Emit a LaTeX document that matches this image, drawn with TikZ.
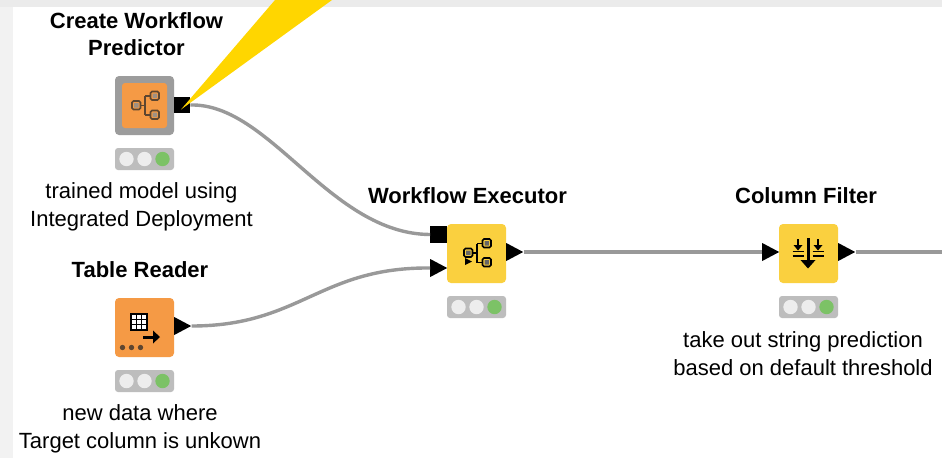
\documentclass[tikz,border=0pt]{standalone}
\usepackage{fontspec}
\setmainfont{Liberation Sans}
\usetikzlibrary{shapes.geometric}

\definecolor{nodeorange}{HTML}{F59A45}
\definecolor{nodeyellow}{HTML}{FAD03F}
\definecolor{wedgeyellow}{HTML}{FFD600}
\definecolor{framegray}{HTML}{9C9C9C}
\definecolor{lampbar}{HTML}{BDBDBD}
\definecolor{wiregray}{HTML}{999999}
\definecolor{lampgreen}{HTML}{7CC266}
\definecolor{icondark}{HTML}{5E4630}

\tikzset{
  orangenode/.style={rectangle, fill=nodeorange, rounded corners=4, minimum size=59, inner sep=0},
  yellownode/.style={rectangle, fill=nodeyellow, rounded corners=4, minimum size=59, inner sep=0},
  framenode/.style={rectangle, fill=framegray, rounded corners=4, minimum size=59, inner sep=0},
  innernode/.style={rectangle, fill=nodeorange, rounded corners=3, minimum size=45, inner sep=0},
  squareport/.style={rectangle, fill=black, minimum size=16.5, inner sep=0},
  arrowport/.style={isosceles triangle, isosceles triangle apex angle=60, fill=black,
    minimum height=17, minimum width=18, inner sep=0, isosceles triangle stretches, anchor=lower side},
  traffic/.style={rectangle, fill=lampbar, rounded corners=3, minimum width=59, minimum height=22, inner sep=0},
  titlelabel/.style={font=\bfseries\fontsize{22}{27}\selectfont, align=center, inner sep=0},
  notelabel/.style={font=\fontsize{22}{28}\selectfont, align=center, inner sep=0},
  wire/.style={draw=wiregray, line width=3.4},
}

\newcommand{\lamps}[1]{
  \fill[white!93!black] (#1)+(-18,0) circle (7.2);
  \fill[white!93!black] (#1)+(0,0) circle (7.2);
  \fill[lampgreen] (#1)+(18,0) circle (7.2);
}
\newcommand{\flowicon}[2]{
  \begin{scope}[shift={(#1)}, draw=#2, line width=1.7]
    \draw[rounded corners=1.5] (-13,-4.5) rectangle (-4.5,4);
    \draw[rounded corners=1.5] (5.5,-14) rectangle (14,-5.5);
    \draw[rounded corners=1.5] (5.5,5) rectangle (14,13.5);
    \draw (-4.5,0) -- (0,0) (0,-9.5) -- (0,9.5) (0,-9.5) -- (5.5,-9.5) (0,9.5) -- (5.5,9.5);
    \fill[#2!60!white] (-11,-2.5) rectangle (-6.5,2) (7.5,-12) rectangle (12,-7.5) (7.5,7) rectangle (12,11.5);
  \end{scope}
}

\begin{document}
\begin{tikzpicture}[x=1pt,y=-1pt]
    \useasboundingbox (0,0) rectangle (942,458);
    \fill[white!95!black] (0,0) rectangle (942,458);
    \fill[white!92!black] (0,0) rectangle (942,7);
    \fill[white] (13,7) rectangle (942,458);

    % nodes
    \node (predictor)[framenode] at (144.5,105.5) {};
    \node (predictorin)[innernode] at (144.5,105.5) {};
    \node (executor)[yellownode] at (476.5,253.5) {};
    \node (filter)[yellownode] at (808.5,253.5) {};
    \node (reader)[orangenode] at (144.5,327.5) {};

    % ports
    \node (predictorout)[squareport] at (182,105) {};
    \node (executormodel)[squareport] at (438.5,234.5) {};
    \node (executordata)[arrowport] at (430,268) {};
    \node (executorout)[arrowport] at (506,252) {};
    \node (filterin)[arrowport] at (762,252) {};
    \node (filterout)[arrowport] at (838,252) {};
    \node (readerout)[arrowport] at (174,326) {};
    \coordinate (rightedge) at (942,252);

    % status
    \node (predictorlamp)[traffic] at (144.5,159) {};
    \node (executorlamp)[traffic] at (476.5,307) {};
    \node (filterlamp)[traffic] at (808.5,307) {};
    \node (readerlamp)[traffic] at (144.5,381) {};
    \lamps{predictorlamp}
    \lamps{executorlamp}
    \lamps{filterlamp}
    \lamps{readerlamp}

    % labels
    \node (predictortitle)[titlelabel] at (136.5,34.5) {Create Workflow\\Predictor};
    \node (predictornote)[notelabel] at (141.5,206.5) {trained model using\\Integrated Deployment};
    \node (executortitle)[titlelabel] at (467.5,196) {Workflow Executor};
    \node (filtertitle)[titlelabel] at (806,196) {Column Filter};
    \node (filternote)[notelabel] at (803,353.5) {take out string prediction\\based on default threshold};
    \node (readertitle)[titlelabel] at (140,270) {Table Reader};
    \node (readernote)[notelabel] at (140,428.5) {new data where\\Target column is unkown};

    % wires
    \draw[wire] (predictorout.east) .. controls (270,103) and (330,234) .. (executormodel.west);
    \draw[wire] (readerout.apex) .. controls (300,326) and (320,267) .. (executordata.lower side);
    \foreach \from/\to in {executorout.apex/filterin.lower side, filterout.apex/rightedge}
    \draw[wire] (\from) -- (\to);

    % icons
    \flowicon{145,105.5}{icondark}
    \flowicon{477,253}{black}
    \fill[black] (465,258) -- (472,261.5) -- (465,265) -- cycle;

    \draw[black, line width=3] (808,238) -- (808,262);
    \fill[black] (800.5,260) -- (815.5,260) -- (808,268.5) -- cycle;
    \foreach \x in {798,818} {
      \draw[black, line width=1.8] (\x,239) -- (\x,247);
      \fill[black] (\x-4.5,245) -- (\x+4.5,245) -- (\x,250.5) -- cycle;
      \draw[black, line width=1.5] (\x-5.5,251.5) -- (\x+5.5,251.5);
      \draw[black, line width=1.5] (\x-5.5,256) -- (\x+5.5,256);
    }

    \fill[black] (130,313) rectangle (148,331);
    \foreach \x in {0,1,2} \foreach \y in {0,1,2}
      \fill[white] (131.5+\x*5.2,314.5+\y*5.2) rectangle +(4.2,4.2);
    \draw[black, line width=3] (143,337) -- (155,337);
    \fill[black] (153,330.5) -- (160,337) -- (153,343.5) -- cycle;
    \foreach \x in {122.5,131.5,140.5}
      \fill[icondark] (\x,347.5) circle (2.7);

    % highlight
    \coordinate (tip) at (181,109.5);
    \fill[wedgeyellow] (tip) -- (275,0) -- (332,0) -- cycle;
\end{tikzpicture}
\end{document}
